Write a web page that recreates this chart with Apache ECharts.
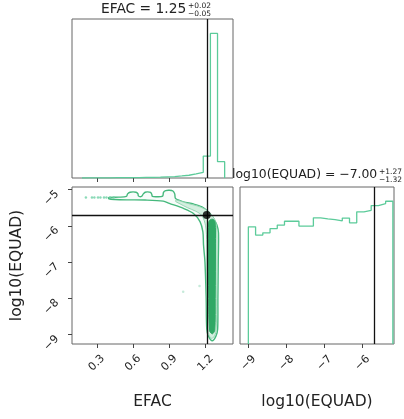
<!DOCTYPE html>
<html>
<head>
<meta charset="utf-8">
<script src="https://cdn.jsdelivr.net/npm/echarts@6/dist/echarts.min.js"></script>
<style>
html,body{margin:0;padding:0;background:#fff;}
#c{width:404px;height:419px;}
</style>
</head>
<body>
<div id="c"></div>
<script>
// ---- data ----
const efacEdges = [0.178,0.237,0.296,0.355,0.414,0.473,0.532,0.591,0.650,0.709,0.768,0.827,0.886,0.945,1.004,1.063,1.122,1.181,1.240,1.299,1.358];
const efacCounts = [1,1,1,1,2,2,3,3,4,5,6,8,10,14,19,28,39,152,1000,113];
const equadEdges = [-9.00,-8.81,-8.62,-8.43,-8.24,-8.05,-7.86,-7.67,-7.48,-7.29,-7.10,-6.91,-6.72,-6.53,-6.34,-6.15,-5.96,-5.77,-5.58,-5.39,-5.20];
const equadCounts = [821,763,779,809,833,860,860,826,826,884,877,872,863,882,849,926,937,970,984,1000];
const efacTicks = [0.3,0.6,0.9,1.2];
const equadTicks = [-9,-8,-7,-6,-5];
const equadHistTicks = [-9,-8,-7,-6];
const truthEfac = 1.21;
const truthEquad = -5.7;
// contour levels (EFAC, log10 EQUAD)
const outerX = [0.40,0.48,0.545,0.555,0.575,0.60,0.625,0.64,0.645,0.67,0.685,0.70,0.72,0.745,0.755,0.76,0.80,0.845,0.852,0.87,0.90,0.93,0.945,0.952,1.017,1.10,1.17,1.225,1.266,1.294,1.307,1.305,1.302,1.30,1.285,1.255,1.225,1.21,1.205,1.195,1.183,1.178,1.155,1.10,1.017,0.90,0.85,0.70,0.55,0.45,0.40];
const outerY = [-5.22,-5.21,-5.19,-5.12,-5.075,-5.065,-5.075,-5.11,-5.18,-5.19,-5.12,-5.075,-5.065,-5.08,-5.13,-5.19,-5.20,-5.18,-5.08,-5.03,-5.02,-5.04,-5.12,-5.25,-5.34,-5.40,-5.48,-5.62,-5.80,-5.98,-6.2,-7.0,-8.0,-8.85,-9.05,-9.17,-9.05,-8.85,-8.0,-7.0,-6.53,-6.17,-5.89,-5.66,-5.52,-5.38,-5.32,-5.29,-5.285,-5.275,-5.255];
const midX = [0.96,1.05,1.13,1.19,1.24,1.275,1.29,1.295,1.292,1.287,1.268,1.245,1.222,1.212,1.21,1.20,1.17,1.12,1.05,0.98,0.95];
const midY = [-5.29,-5.38,-5.45,-5.53,-5.66,-5.82,-6.0,-6.5,-8.0,-8.9,-9.07,-9.1,-8.95,-8.0,-6.5,-6.0,-5.72,-5.60,-5.50,-5.38,-5.32];
const coreX = [1.226,1.24,1.262,1.279,1.282,1.28,1.276,1.256,1.234,1.226,1.223];
const coreY = [-5.9,-5.83,-5.82,-5.9,-6.5,-8.0,-8.88,-8.98,-8.9,-8.0,-6.5];
const sampleX = [0.21,0.26,0.28,0.31,0.33,0.36,0.38,0.41,0.44];
const sampleY = [-5.22,-5.22,-5.22,-5.22,-5.22,-5.22,-5.22,-5.22,-5.22];
const strayX = [1.15,1.015];
const strayY = [-7.66,-7.82];

// ---- helpers ----
function stepPoints(edges, counts){
  const pts = [[edges[0],0]];
  for (let i=0;i<counts.length;i++){
    pts.push([edges[i],counts[i]]);
    pts.push([edges[i+1],counts[i]]);
  }
  pts.push([edges[edges.length-1],0]);
  return pts;
}
const minus = v => (v<0?'\u2212':'') + Math.abs(v);
const FONT = 'DejaVu Sans';
const histColor = '#5ccb9a';
const lineColor = '#45b87c';
function poly(xs, ys, style, z){
  return {
    type:'custom', xAxisIndex:1, yAxisIndex:1, z:z, silent:true,
    data:[[xs[0],ys[0]]],
    renderItem:(params, api)=>({
      type:'polygon',
      shape:{points: xs.map((x,i)=>api.coord([x, ys[i]])), smooth:0.3},
      style: style
    })
  };
}
const tickStyle = {show:true, inside:false, length:4, lineStyle:{color:'#444', width:1}};
const xLab = {fontSize:11, color:'#222', fontFamily:FONT, rotate:45, margin:19, align:'center', verticalAlign:'middle'};
const yLab = {fontSize:11, color:'#222', fontFamily:FONT, rotate:45, margin:12, padding:[7,4,0,0]};
const nameStyle = {fontSize:15.5, color:'#222', fontFamily:FONT};
const titleText = (t, l, tp, fs) => ({text:t, left:l, top:tp, padding:0, textStyle:{fontSize:fs, fontWeight:'normal', color:'#222', fontFamily:FONT}});
const truthLine = {color:'#111', type:'solid', width:1.3};

const chart = echarts.init(document.getElementById('c'), null, {renderer:'canvas'});
chart.setOption({
  animation:false,
  backgroundColor:'#fff',
  title:[
    titleText('EFAC = 1.25', 101, 2, 13.8),
    titleText('+0.02', 188, 2.5, 7.5),
    titleText('\u22120.05', 188, 10.5, 7.5),
    titleText('log10(EQUAD) = \u22127.00', 232, 169, 12.4),
    titleText('+1.27', 379, 168.5, 7.5),
    titleText('\u22121.32', 379, 176.5, 7.5)
  ],
  grid:[
    {left:72, top:19, width:161, height:159, show:true, borderColor:'#666', borderWidth:1},
    {left:72, top:187, width:161, height:157, show:true, borderColor:'#666', borderWidth:1},
    {left:240, top:187, width:154, height:157, show:true, borderColor:'#666', borderWidth:1}
  ],
  xAxis:[
    {gridIndex:0, type:'value', min:0.095, max:1.427, axisLine:{show:false}, splitLine:{show:false},
     axisTick:Object.assign({}, tickStyle, {customValues:efacTicks}), axisLabel:{show:false}},
    {gridIndex:1, type:'value', min:0.095, max:1.427, axisLine:{show:false}, splitLine:{show:false},
     axisTick:Object.assign({}, tickStyle, {customValues:efacTicks}),
     axisLabel:Object.assign({}, xLab, {customValues:efacTicks, formatter:v=>minus(v)}),
     name:'EFAC', nameLocation:'middle', nameGap:50, nameTextStyle:nameStyle},
    {gridIndex:2, type:'value', min:-9.22, max:-5.17, axisLine:{show:false}, splitLine:{show:false},
     axisTick:Object.assign({}, tickStyle, {customValues:equadHistTicks}),
     axisLabel:Object.assign({}, xLab, {customValues:equadHistTicks, formatter:v=>minus(v)}),
     name:'log10(EQUAD)', nameLocation:'middle', nameGap:50, nameTextStyle:nameStyle}
  ],
  yAxis:[
    {gridIndex:0, type:'value', min:0, max:1100, axisLine:{show:false}, splitLine:{show:false}, axisTick:{show:false}, axisLabel:{show:false}},
    {gridIndex:1, type:'value', min:-9.26, max:-4.93, axisLine:{show:false}, splitLine:{show:false},
     axisTick:Object.assign({}, tickStyle, {customValues:equadTicks}),
     axisLabel:Object.assign({}, yLab, {customValues:equadTicks, formatter:v=>minus(v)}),
     name:'log10(EQUAD)', nameLocation:'middle', nameRotate:90, nameGap:47, nameTextStyle:nameStyle},
    {gridIndex:2, type:'value', min:0, max:1100, axisLine:{show:false}, splitLine:{show:false}, axisTick:{show:false}, axisLabel:{show:false}}
  ],
  series:[
    {type:'line', xAxisIndex:0, yAxisIndex:0, data:stepPoints(efacEdges, efacCounts), showSymbol:false, symbol:'none',
     lineStyle:{color:histColor, width:1.3}, silent:true, z:3,
     markLine:{silent:true, symbol:['none','none'], label:{show:false}, lineStyle:truthLine, data:[{xAxis:truthEfac}]}},
    poly(outerX, outerY, {fill:'rgba(69,184,124,0.04)', stroke:lineColor, lineWidth:1.4}, 2),
    poly(midX, midY, {fill:'#d3efdf', stroke:'#8fd3ae', lineWidth:0.9}, 3),
    poly(coreX, coreY, {fill:'#2fa865', stroke:'#2fa865', lineWidth:1}, 4),
    {type:'scatter', xAxisIndex:1, yAxisIndex:1, data:sampleX.map((x,i)=>[x,sampleY[i]]), symbolSize:2.5,
     itemStyle:{color:'#6fd1a6'}, silent:true, z:3},
    {type:'scatter', xAxisIndex:1, yAxisIndex:1, data:strayX.map((x,i)=>[x,strayY[i]]), symbolSize:2.5,
     itemStyle:{color:'#9fdcc0', opacity:0.6}, silent:true, z:3},
    {type:'scatter', xAxisIndex:1, yAxisIndex:1, data:[[truthEfac, truthEquad]], symbolSize:8,
     itemStyle:{color:'#000'}, silent:true, z:6,
     markLine:{silent:true, symbol:['none','none'], label:{show:false}, lineStyle:truthLine, z:5,
       data:[{xAxis:truthEfac},{yAxis:truthEquad}]}},
    {type:'line', xAxisIndex:2, yAxisIndex:2, data:stepPoints(equadEdges, equadCounts), showSymbol:false, symbol:'none',
     lineStyle:{color:histColor, width:1.3}, silent:true, z:3,
     markLine:{silent:true, symbol:['none','none'], label:{show:false}, lineStyle:truthLine, data:[{xAxis:truthEquad}]}}
  ]
});
</script>
</body>
</html>
